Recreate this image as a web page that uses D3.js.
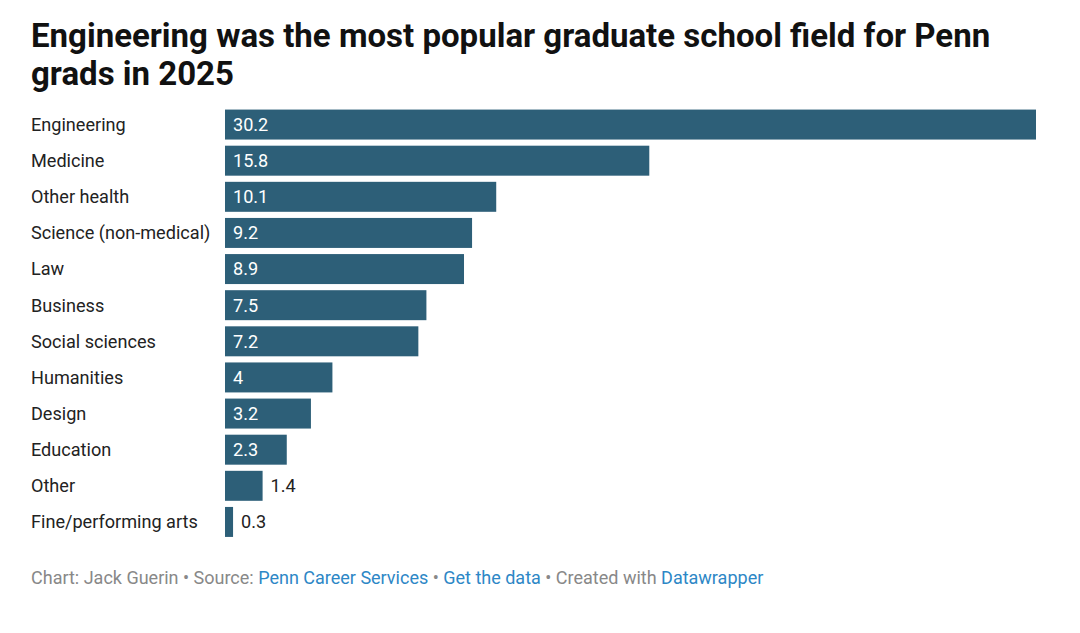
<!DOCTYPE html>
<html><head><meta charset="utf-8">
<script src="https://cdn.jsdelivr.net/npm/d3@7"></script>
<style>body{margin:0;background:#fff;}svg{display:block;font-family:Roboto,sans-serif;}</style>
</head><body><svg id="c" width="1080" height="633"></svg>
<script>
const categories = ["Engineering","Medicine","Other health","Science (non-medical)","Law","Business","Social sciences","Humanities","Design","Education","Other","Fine/performing arts"];
const values = [30.2,15.8,10.1,9.2,8.9,7.5,7.2,4,3.2,2.3,1.4,0.3];
const titleLines = ["Engineering was the most popular graduate school field for Penn","grads in 2025"];

const svg = d3.select("#c");
const t = svg.append("text").attr("x",31).attr("font-size",33).attr("font-weight",700).attr("fill","#111");
titleLines.forEach((l,i)=>t.append("tspan").attr("x",31).attr("y",47+i*38).text(l));

const x = d3.scaleLinear().domain([0,30.2]).range([225,1036]);
const y = d3.scaleBand().domain(categories).range([106.5,540]).paddingInner(0.17).paddingOuter(0.085);

const g = svg.append("g");
categories.forEach((c,i)=>{
  const v = values[i];
  const yc = y(c)+y.bandwidth()/2;
  g.append("text").attr("x",31).attr("y",yc).attr("dy","0.35em").attr("font-size",18.1).attr("fill","#222").text(c);
  const w = x(v)-x(0);
  g.append("rect").attr("x",x(0)).attr("y",y(c)).attr("width",w).attr("height",y.bandwidth()).attr("fill","#2d5f78");
  const inside = w>50;
  g.append("text").attr("x",inside? x(0)+8 : x(v)+8).attr("y",yc).attr("dy","0.35em")
    .attr("font-size",18.1).attr("font-weight",400).attr("fill",inside?"#fff":"#222").text(String(v));
});

const f = svg.append("text").attr("x",31).attr("y",584).attr("font-size",18).attr("fill","#888");
const parts = [["Chart: Jack Guerin • Source: ","#888"],["Penn Career Services","#2d87c6"],[" • ","#888"],["Get the data","#2d87c6"],[" • Created with ","#888"],["Datawrapper","#2d87c6"]];
parts.forEach(p=>f.append("tspan").attr("fill",p[1]).text(p[0]));
</script></body></html>
